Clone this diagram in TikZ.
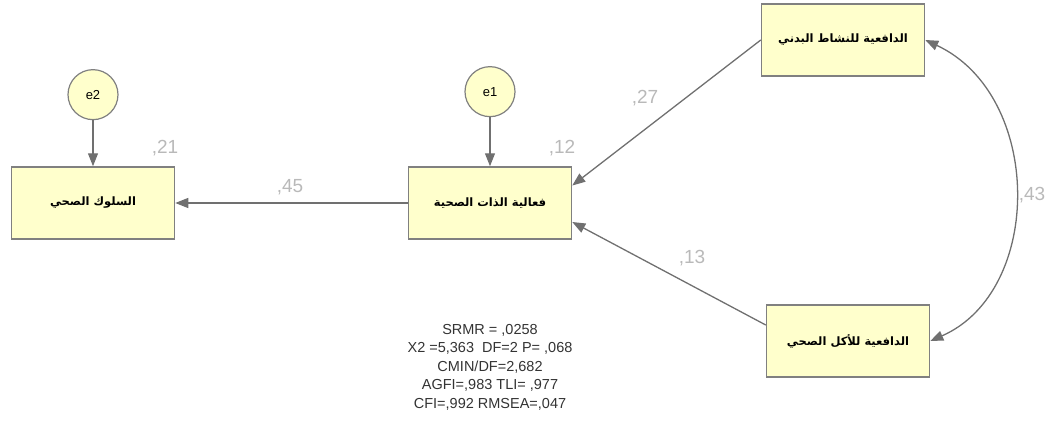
\documentclass[tikz,border=0pt]{standalone}
\usepackage{fontspec}
\setmainfont{Liberation Sans}
\newfontfamily\arabicfont[Script=Arabic]{DejaVu Sans}
\TeXXeTstate=1
\usetikzlibrary{arrows.meta,positioning}
\definecolor{boxyellow}{RGB}{255,255,204}
\definecolor{edgegray}{RGB}{128,128,128}
\definecolor{pathgray}{RGB}{112,112,112}
\definecolor{coefgray}{RGB}{185,185,185}

\begin{document}
\begin{tikzpicture}[
  x=1pt, y=-1pt,
  var/.style={draw=edgegray, line width=1.5pt, fill=boxyellow, minimum width=163pt, minimum height=72pt, font=\arabicfont\bfseries\fontsize{11.5}{13}\selectfont},
  err/.style={circle, draw=edgegray, line width=1.2pt, fill=boxyellow, minimum size=50pt, inner sep=0pt, font=\fontsize{13}{15}\selectfont},
  effect/.style={-{Triangle[length=13pt,width=10pt]}, line width=1.3pt, draw=pathgray},
  covar/.style={{Triangle[length=13pt,width=10pt]}-{Triangle[length=13pt,width=10pt]}, line width=1.3pt, draw=pathgray},
  coef/.style={text=coefgray, font=\fontsize{19}{22}\selectfont},
  fits/.style={align=center, text=black!80, font=\fontsize{14.5}{18.5}\selectfont}
]
\useasboundingbox (0,0) rectangle (1056,436);

\node[var] (behav) at (93,203) {\beginR السلوك الصحي\endR};
\node[var] (effic) at (490,203) {\beginR فعالية الذات الصحية\endR};
\node[var] (mact) at (843,40) {\beginR الدافعية للنشاط البدني\endR};
\node[var] (meat) at (848,341) {\beginR الدافعية للأكل الصحي\endR};

\node[err, above=46pt of behav] (e2) {e2};
\node[err, above=49pt of effic] (e1) {e1};

\draw[effect] (e2) -- (behav);
\draw[effect] (e1) -- (effic);
\draw[effect] (effic) -- (behav);
\draw[effect] (mact.west) -- (effic.12);
\draw[effect] (meat.169) -- (effic.-13);
\draw[covar] (mact.east) .. controls +(118,55) and +(114,-50) .. (meat.east);

\node[coef] (r2behav) at (165,148) {,21};
\node[coef] (r2effic) at (562,148) {,12};
\node[coef] (b45) at (290,187) {,45};
\node[coef] (b27) at (645,98) {,27};
\node[coef] (b13) at (692,258) {,13};
\node[coef] (c43) at (1032,195) {,43};

\node[fits] (fit) at (490,367) {SRMR = ,0258\\X2 =5,363\ \ DF=2 P= ,068\\CMIN/DF=2,682\\AGFI=,983 TLI= ,977\\CFI=,992 RMSEA=,047};
\end{tikzpicture}
\end{document}
